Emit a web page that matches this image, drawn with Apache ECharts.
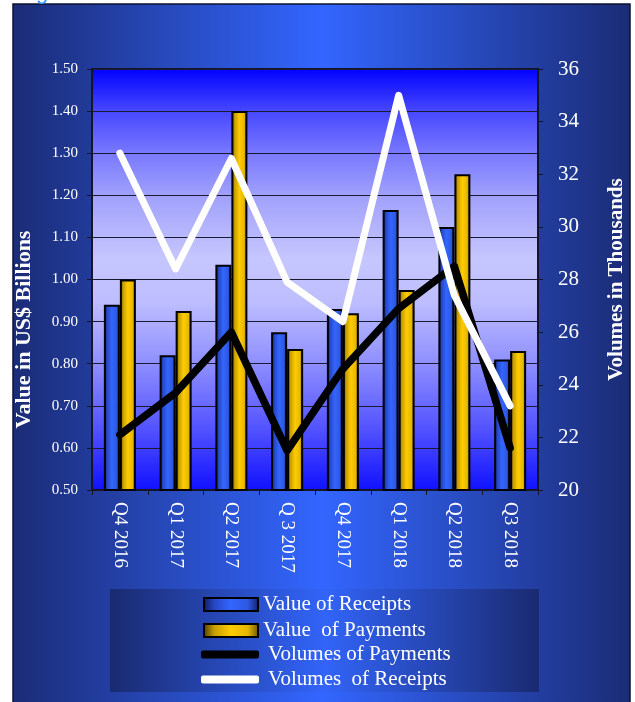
<!DOCTYPE html>
<html>
<head>
<meta charset="utf-8">
<style>
  html, body { margin: 0; padding: 0; background: #ffffff; }
  #chart { width: 635px; height: 702px; }
</style>
<script src="https://cdn.jsdelivr.net/npm/echarts@6/dist/echarts.min.js"></script>
</head>
<body>
<div id="chart"></div>
<script>
// Quarterly cross-border payment values (US$ bn) and volumes (thousands)
const quarters = ['Q4 2016', 'Q1 2017', 'Q2 2017', 'Q 3 2017', 'Q4 2017', 'Q1 2018', 'Q2 2018', 'Q3 2018'];
const valueReceipts = [0.94, 0.82, 1.035, 0.875, 0.93, 1.165, 1.125, 0.81];
const valuePayments = [1.00, 0.925, 1.40, 0.835, 0.92, 0.975, 1.25, 0.83];
const volumePayments = [22.1, 23.7, 26.0, 21.5, 24.6, 26.9, 28.5, 21.6];
const volumeReceipts = [32.8, 28.4, 32.6, 27.9, 26.4, 35.0, 27.4, 23.2];

const leftTicks = { min: 0.5, max: 1.5, interval: 0.1 };
const rightTicks = { min: 20, max: 36, interval: 2 };

const serif = '"Liberation Serif", "Times New Roman", serif';

function hGrad(stops) {
  return new echarts.graphic.LinearGradient(0, 0, 1, 0,
    stops.map(s => ({ offset: s[0], color: s[1] })));
}
function vGrad(stops) {
  return new echarts.graphic.LinearGradient(0, 0, 0, 1,
    stops.map(s => ({ offset: s[0], color: s[1] })));
}

const blueBar = hGrad([[0, '#0d1a5c'], [0.2, '#2647c4'], [0.5, '#3366ff'], [0.8, '#2d58e0'], [1, '#10206a']]);
const goldBar = hGrad([[0, '#4a3a00'], [0.2, '#c79e00'], [0.5, '#ffcc00'], [0.8, '#e6b800'], [1, '#6a5200']]);

const chart = echarts.init(document.getElementById('chart'), null, { renderer: 'canvas' });

chart.setOption({
  animation: false,
  backgroundColor: '#ffffff',
  graphic: [
    {
      type: 'rect', z: -10, silent: true,
      shape: { x: 13, y: 4, width: 617, height: 710 },
      style: {
        fill: hGrad([[0, '#1b2c76'], [0.5, '#3366ff'], [1, '#1b2c76']]),
        stroke: '#0b1230', lineWidth: 1.5
      }
    },
    {
      type: 'rect', z: -9, silent: true,
      shape: { x: 110, y: 589, width: 429, height: 103 },
      style: { fill: hGrad([[0, '#1a2a70'], [0.5, '#3264f8'], [1, '#1a2a70']]) }
    },
    {
      type: 'text', z: -8, silent: true,
      left: 36, top: -18,
      style: { text: 'g', fill: '#3399ff', font: '22px "Liberation Sans", Arial, sans-serif' }
    }
  ],
  grid: {
    left: 92, right: 86, top: 69, bottom: 212,
    show: true,
    borderColor: '#15152a', borderWidth: 2,
    backgroundColor: vGrad([
      [0, '#0000ff'], [0.1, '#4646ff'], [0.2, '#7878ff'], [0.3, '#a0a0fc'],
      [0.45, '#c6c6ff'], [0.55, '#bebeff'], [0.7, '#8e8eff'], [0.85, '#5454ff'], [1, '#1010ff']
    ])
  },
  legend: [
    {
      orient: 'vertical', left: 198, top: 589,
      itemWidth: 54, itemHeight: 13, itemGap: 5,
      icon: 'rect',
      data: ['Value of Receipts', 'Value  of Payments'],
      textStyle: { color: '#ffffff', fontFamily: serif, fontSize: 21 }
    },
    {
      orient: 'vertical', left: 196, top: 639,
      itemWidth: 58, itemHeight: 8, itemGap: 4,
      data: [
        { name: 'Volumes of Payments', icon: 'roundRect' },
        { name: 'Volumes  of Receipts', icon: 'roundRect' }
      ],
      textStyle: { color: '#ffffff', fontFamily: serif, fontSize: 21, padding: [0, 0, 0, 4] }
    }
  ],
  xAxis: {
    type: 'category',
    data: quarters,
    boundaryGap: true,
    axisLine: { show: true, lineStyle: { color: '#15152a', width: 2 } },
    axisTick: { show: true, length: 5, lineStyle: { color: '#15152a', width: 1 } },
    axisLabel: {
      rotate: -90, margin: 12,
      color: '#ffffff', fontFamily: serif, fontSize: 19
    },
    splitLine: { show: false }
  },
  yAxis: [
    {
      type: 'value',
      min: leftTicks.min, max: leftTicks.max, interval: leftTicks.interval,
      name: 'Value in US$ Billions',
      nameLocation: 'middle', nameRotate: 90, nameGap: 57,
      nameTextStyle: {
        color: '#ffffff', fontFamily: serif, fontSize: 22, fontWeight: 'bold',
        padding: [0, 100, 0, 0]
      },
      axisLine: { show: true, lineStyle: { color: '#15152a', width: 2 } },
      axisTick: { show: true, length: 5, lineStyle: { color: '#15152a', width: 1 } },
      axisLabel: {
        margin: 14, color: '#ffffff', fontFamily: serif, fontSize: 15,
        formatter: v => v.toFixed(2)
      },
      splitLine: { show: true, lineStyle: { color: '#1a1a33', width: 1 } }
    },
    {
      type: 'value',
      min: rightTicks.min, max: rightTicks.max, interval: rightTicks.interval,
      name: 'Volumes in Thousands',
      nameLocation: 'middle', nameRotate: 90, nameGap: 68,
      nameTextStyle: { color: '#ffffff', fontFamily: serif, fontSize: 21, fontWeight: 'bold' },
      axisLine: { show: true, lineStyle: { color: '#15152a', width: 2 } },
      axisTick: { show: true, length: 5, lineStyle: { color: '#15152a', width: 1 } },
      axisLabel: { margin: 20, color: '#ffffff', fontFamily: serif, fontSize: 21 },
      splitLine: { show: false }
    }
  ],
  series: [
    {
      name: 'Value of Receipts', type: 'bar', yAxisIndex: 0,
      data: valueReceipts,
      barWidth: 16, barGap: '0%',
      itemStyle: { color: blueBar, borderColor: '#000000', borderWidth: 2 }
    },
    {
      name: 'Value  of Payments', type: 'bar', yAxisIndex: 0,
      data: valuePayments,
      barWidth: 16, barGap: '0%',
      itemStyle: { color: goldBar, borderColor: '#000000', borderWidth: 2 }
    },
    {
      name: 'Volumes of Payments', type: 'line', yAxisIndex: 1,
      data: volumePayments,
      symbol: 'none', showSymbol: false, z: 3,
      lineStyle: { color: '#000000', width: 7.5, cap: 'round', join: 'round' },
      itemStyle: { color: '#000000' }
    },
    {
      name: 'Volumes  of Receipts', type: 'line', yAxisIndex: 1,
      data: volumeReceipts,
      symbol: 'none', showSymbol: false, z: 4,
      lineStyle: { color: '#ffffff', width: 7, cap: 'round', join: 'round' },
      itemStyle: { color: '#ffffff' }
    }
  ]
});
</script>
</body>
</html>
